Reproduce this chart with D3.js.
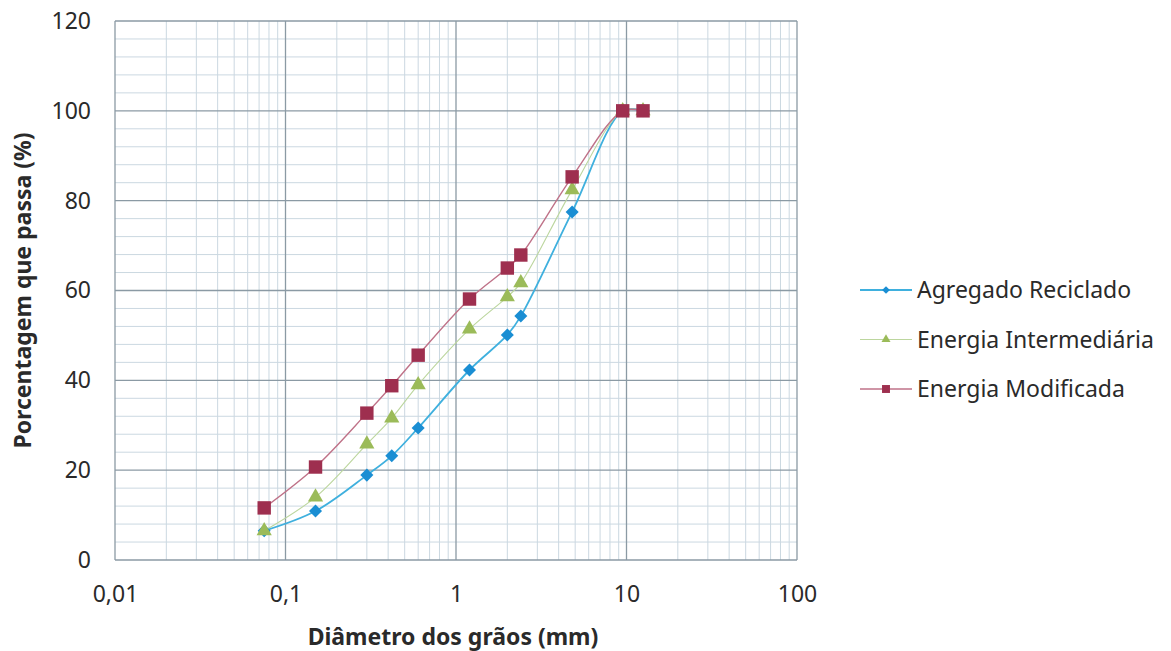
<!DOCTYPE html>
<html>
<head>
<meta charset="utf-8">
<script src="https://cdn.jsdelivr.net/npm/d3@7"></script>
<style>
  body { margin: 0; background: #fff; }
  text { font-family: "Noto Sans", "Open Sans", sans-serif; fill: #2a2a2a; }
</style>
</head>
<body>
<div id="chart"></div>
<script>
// sieve openings (mm)
var sizes = [0.075, 0.15, 0.3, 0.42, 0.6, 1.2, 2.0, 2.4, 4.8, 9.5, 12.5];

var agregado = [6.5, 10.9, 18.9, 23.2, 29.4, 42.3, 50.1, 54.3, 77.5, 100, 100];
var intermediaria = [6.5, 14.0, 25.8, 31.6, 39.0, 51.4, 58.6, 61.7, 82.4, 100, 100];
var modificada = [11.6, 20.7, 32.7, 38.8, 45.6, 58.1, 65.0, 67.9, 85.3, 100, 100];

var seriesNames = ["Agregado Reciclado", "Energia Intermediária", "Energia Modificada"];
var xTicks = [0.01, 0.1, 1, 10, 100];
var xTickLabels = ["0,01", "0,1", "1", "10", "100"];
var yTicks = [0, 20, 40, 60, 80, 100, 120];

var w = 1171, h = 651;
var margin = {left: 115, top: 21, right: 374, bottom: 91};

var svg = d3.select("#chart").append("svg")
    .attr("width", w)
    .attr("height", h);

var x = d3.scaleLog().domain([0.01, 100]).range([margin.left, w - margin.right]);
var y = d3.scaleLinear().domain([0, 120]).range([h - margin.bottom, margin.top]);

var grid = svg.append("g");

// minor grid: log 2..9 and every 4 %
var minorX = [];
for (var dec = 0.01; dec < 100; dec *= 10) {
    for (var k = 2; k <= 9; k++) minorX.push(dec * k);
}
var minorY = d3.range(0, 121, 4).filter(function(v) { return v % 20 != 0; });

grid.selectAll(".mx").data(minorX).enter().append("line")
    .attr("x1", function(d) { return x(d); })
    .attr("x2", function(d) { return x(d); })
    .attr("y1", y(0)).attr("y2", y(120))
    .attr("stroke", "#cbd8e1").attr("stroke-width", 1);
grid.selectAll(".my").data(minorY).enter().append("line")
    .attr("x1", x(0.01)).attr("x2", x(100))
    .attr("y1", function(d) { return y(d); })
    .attr("y2", function(d) { return y(d); })
    .attr("stroke", "#cbd8e1").attr("stroke-width", 1);

grid.selectAll(".MX").data(xTicks).enter().append("line")
    .attr("x1", function(d) { return x(d); })
    .attr("x2", function(d) { return x(d); })
    .attr("y1", y(0)).attr("y2", y(120))
    .attr("stroke", "#8b9aa4").attr("stroke-width", 1.3);
grid.selectAll(".MY").data(yTicks).enter().append("line")
    .attr("x1", x(0.01)).attr("x2", x(100))
    .attr("y1", function(d) { return y(d); })
    .attr("y2", function(d) { return y(d); })
    .attr("stroke", "#8b9aa4").attr("stroke-width", 1.3);

// axes (labels only, lines come from grid)
svg.append("g")
    .attr("transform", "translate(0," + y(0) + ")")
    .call(d3.axisBottom(x).tickValues(xTicks).tickSize(0).tickPadding(26)
        .tickFormat(function(d, i) { return xTickLabels[i]; }));
svg.append("g")
    .attr("transform", "translate(" + x(0.01) + ",0)")
    .call(d3.axisLeft(y).tickValues(yTicks).tickSize(0).tickPadding(24));
svg.selectAll(".domain").remove();
svg.selectAll(".tick text")
    .style("font-family", "'Noto Sans', sans-serif")
    .style("font-size", "23px")
    .attr("fill", "#2a2a2a");

svg.append("text")
    .attr("x", x(1) - 3).attr("y", 645)
    .attr("text-anchor", "middle")
    .style("font-size", "23px").style("font-weight", "bold")
    .text("Diâmetro dos grãos (mm)");
svg.append("text")
    .attr("transform", "translate(31," + (y(60)) + ") rotate(-90)")
    .attr("text-anchor", "middle")
    .style("font-size", "23px").style("font-weight", "bold")
    .text("Porcentagem que passa (%)");

// wide diamond = square rotated 45 degrees
var series = [
    {name: seriesNames[0], values: agregado, line: "#3fb0de", fill: "#1a8ed3", width: 1.8, shape: d3.symbolSquare, rot: 45, size: 85},
    {name: seriesNames[1], values: intermediaria, line: "#bcd69e", fill: "#9bbb59", width: 1.1, shape: d3.symbolTriangle, rot: 0, size: 100},
    {name: seriesNames[2], values: modificada, line: "#bf7288", fill: "#9e2f4f", width: 1.4, shape: d3.symbolSquare, rot: 0, size: 180}
];

var line = d3.line()
    .x(function(d) { return x(d[0]); })
    .y(function(d) { return y(d[1]); })
    .curve(d3.curveCatmullRom.alpha(0.5));

series.forEach(function(s) {
    var pts = sizes.map(function(d, i) { return [d, s.values[i]]; });
    svg.append("path")
        .datum(pts)
        .attr("d", line)
        .attr("fill", "none")
        .attr("stroke", s.line)
        .attr("stroke-width", s.width);
});
series.forEach(function(s) {
    var pts = sizes.map(function(d, i) { return [d, s.values[i]]; });
    svg.selectAll(null).data(pts).enter().append("path")
        .attr("d", d3.symbol().type(s.shape).size(s.size))
        .attr("transform", function(d) {
            return "translate(" + x(d[0]) + "," + y(d[1]) + ") rotate(" + s.rot + ")";
        })
        .attr("fill", s.fill);
});

// legend
var legend = svg.append("g").attr("transform", "translate(860,290)");
series.forEach(function(s, i) {
    var g = legend.append("g").attr("transform", "translate(0," + (i * 49.5) + ")");
    g.append("line").attr("x1", 0).attr("x2", 52).attr("y1", 0).attr("y2", 0)
        .attr("stroke", s.line).attr("stroke-width", s.width);
    g.append("path").attr("d", d3.symbol().type(s.shape).size(s.size * 0.35))
        .attr("transform", "translate(26,0) rotate(" + s.rot + ")").attr("fill", s.fill);
    g.append("text").attr("x", 57).attr("y", 8)
        .style("font-size", "23px")
        .text(s.name);
});
</script>
</body>
</html>
